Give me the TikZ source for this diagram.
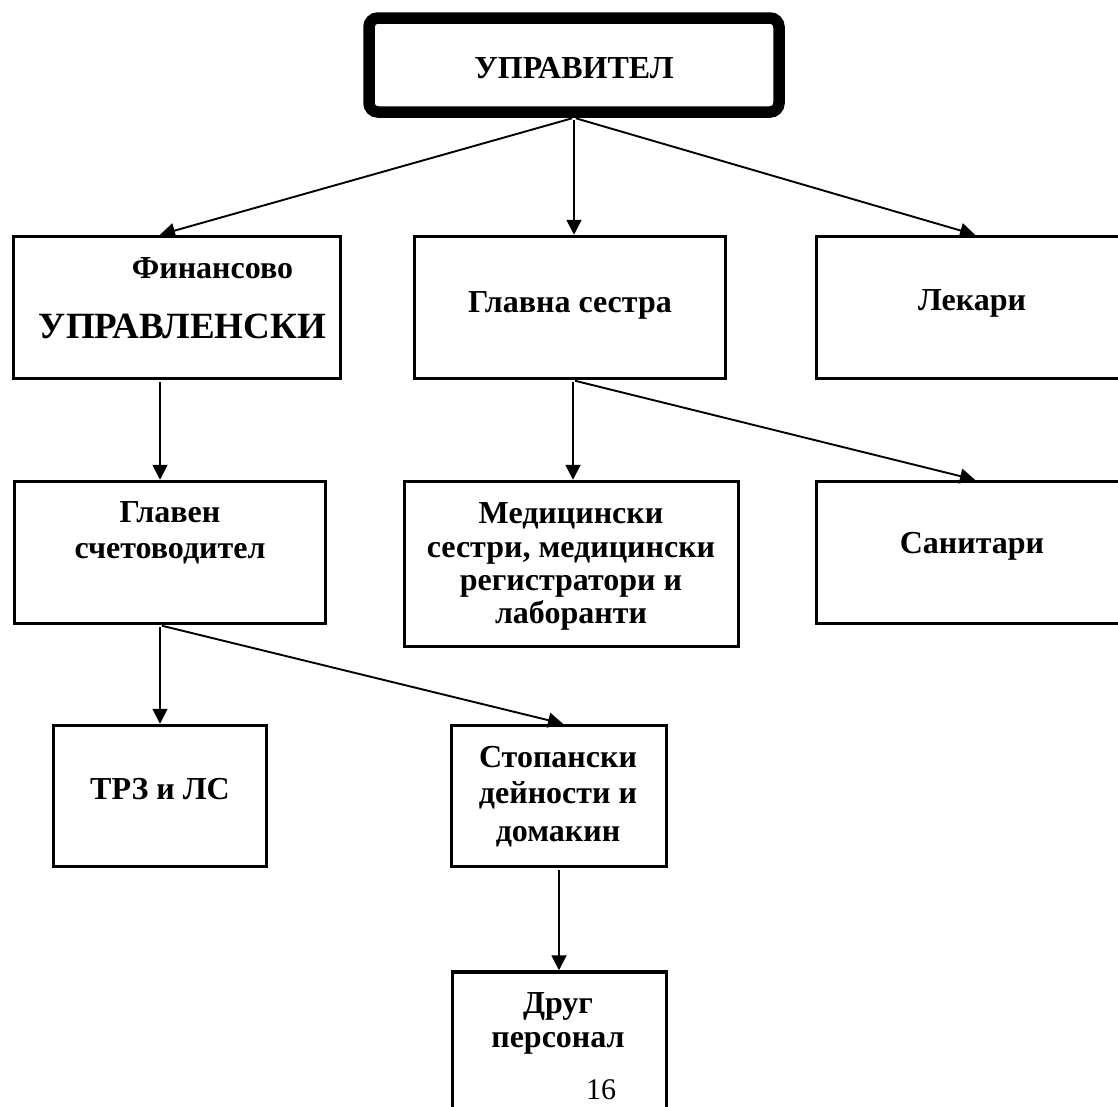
\documentclass[tikz,border=0pt]{standalone}
\usepackage{fontspec}
\setmainfont{Liberation Serif}
\usetikzlibrary{arrows.meta}
\begin{document}
\begin{tikzpicture}[x=1pt,y=-1pt,
  box/.style={draw, line width=3.5pt, rectangle, inner sep=0pt},
  topbox/.style={draw, line width=11.5pt, rectangle, rounded corners=9pt, inner sep=0pt},
  txt/.style={anchor=base, inner sep=0pt, font=\fontsize{32}{36}\selectfont\bfseries},
  bigtxt/.style={anchor=base, inner sep=0pt, font=\fontsize{37}{42}\selectfont\bfseries},
  pgnum/.style={anchor=base, inner sep=0pt, font=\fontsize{30}{34}\selectfont},
  arr/.style={line width=1.9pt, -{Triangle[length=15pt,width=15pt]}, shorten <=2pt}
]
\useasboundingbox (0,0) rectangle (1118,1106);
\fill[white] (0,0) rectangle (1118,1106);
\clip (0,0) rectangle (1118,1106);

% boxes
\node[topbox, minimum width=410pt, minimum height=94pt] (top) at (574,65) {};
\node[box, minimum width=327pt, minimum height=142pt] (fin) at (177,307.5) {};
\node[box, minimum width=311pt, minimum height=142pt] (gs) at (570,307.5) {};
\node[box, minimum width=311pt, minimum height=142pt] (lek) at (972,307.5) {};
\node[box, minimum width=311pt, minimum height=142pt] (glav) at (170,552.5) {};
\node[box, minimum width=334pt, minimum height=165pt] (med) at (571.5,564) {};
\node[box, minimum width=311pt, minimum height=142pt] (san) at (972,552.5) {};
\node[box, minimum width=213pt, minimum height=141pt] (trz) at (160,796) {};
\node[box, minimum width=215pt, minimum height=141pt] (stop) at (559,796) {};
\node[box, minimum width=214pt, minimum height=168pt] (drug) at (559.5,1056) {};

% texts
\node[txt] (tTop) at (574,78) {УПРАВИТЕЛ};
\node[txt] (tFin1) at (212.5,278) {Финансово};
\node[bigtxt] (tFin2) at (182.5,338) {УПРАВЛЕНСКИ};
\node[txt] (tGs) at (570,312) {Главна сестра};
\node[txt] (tLek) at (972,310) {Лекари};
\node[txt] (tGl1) at (170,522) {Главен};
\node[txt] (tGl2) at (170,558) {счетоводител};
\node[txt] (tMed1) at (571,523) {Медицински};
\node[txt] (tMed2) at (571,557) {сестри, медицински};
\node[txt] (tMed3) at (571,590) {регистратори и};
\node[txt] (tMed4) at (571,623) {лаборанти};
\node[txt] (tSan) at (972,553) {Санитари};
\node[txt] (tTrz) at (160,799) {ТРЗ и ЛС};
\node[txt] (tSt1) at (558,767) {Стопански};
\node[txt] (tSt2) at (558,803) {дейности и};
\node[txt] (tSt3) at (558,841) {домакин};
\node[txt] (tDr1) at (558,1013) {Друг};
\node[txt] (tDr2) at (558,1047) {персонал};
\node[pgnum] (tPg) at (601,1099) {16};

% connection points
\coordinate (finIn) at ([xshift=-17pt]fin.north);
\coordinate (finOut) at ([xshift=-17pt]fin.south);
\coordinate (lekIn) at ([xshift=3pt]lek.north);
\coordinate (gsOut) at ([xshift=3pt]gs.south);
\coordinate (sanIn) at ([xshift=3pt]san.north);
\coordinate (glOut) at ([xshift=-10pt]glav.south);
\coordinate (stIn) at ([xshift=4pt]stop.north);

% connectors
\draw[arr] (top.south) -- (finIn);
\draw[arr] (top.south) -- (top.south |- gs.north);
\draw[arr] (top.south) -- (lekIn);
\draw[arr] (finOut) -- (finOut |- glav.north);
\draw[arr] (gsOut) -- (gsOut |- med.north);
\draw[arr] (gsOut) -- (sanIn);
\draw[arr] (glOut) -- (glOut |- trz.north);
\draw[arr] (glOut) -- (stIn);
\draw[arr] (stop.south) -- (stop.south |- drug.north);
\end{tikzpicture}
\end{document}
